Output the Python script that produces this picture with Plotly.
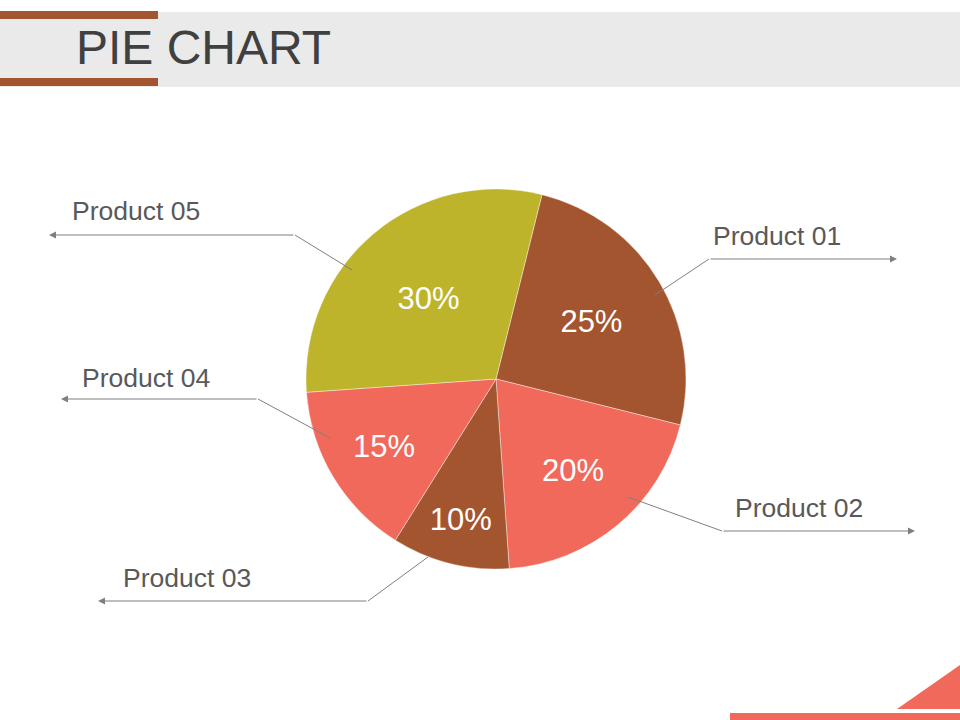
#!/usr/bin/env python3

import sys

import plotly.graph_objects as go

# chart data
products = ["Product 01", "Product 02", "Product 03", "Product 04", "Product 05"]
shares = [25, 20, 10, 15, 30]
slice_colors = ["#A3552F", "#F1695B", "#A3552F", "#F1695B", "#BDB42B"]

title_text = "PIE CHART"

W, H = 960, 720


def px(x):
    # pixel -> paper (x)
    return x / W


def py(y):
    # pixel -> paper (y), pixel y grows downward
    return 1 - y / H


# pie placement in pixels: center and radius
CX, CY, R = 496, 379, 190
START_ANGLE = 14  # degrees clockwise from 12 o'clock

# leader line layout in pixels:
# (anchor x, anchor y, elbow x, elbow y, arrow tip x, label x, label y)
leaders = [
    (655, 295, 709, 259, 897, 711, 236),
    (628, 497, 722, 531, 915, 733, 508),
    (428, 557, 368, 601, 98, 121, 578),
    (330, 438, 258, 399, 61, 80, 378),
    (352, 270, 295, 235, 49, 70, 211),
]


def build_figure():
    fig = go.Figure()

    fig.add_trace(go.Pie(
        labels=products,
        values=shares,
        sort=False,
        direction="clockwise",
        rotation=START_ANGLE,
        marker=dict(colors=slice_colors, line=dict(color="rgba(255,255,255,0.5)", width=0.8)),
        texttemplate="%{percent:.0%}",
        textposition="inside",
        insidetextorientation="horizontal",
        insidetextfont=dict(family="Liberation Sans, Arial", size=31, color="white"),
        showlegend=False,
        hoverinfo="label+percent",
        domain=dict(x=[px(CX - R), px(CX + R)], y=[py(CY + R), py(CY - R)]),
    ))

    shapes = []
    annotations = []

    # header band + accent bars
    shapes.append(dict(type="rect", xref="paper", yref="paper",
                       x0=0, x1=1, y0=py(87), y1=py(12),
                       fillcolor="#EAEAEA", line_width=0, layer="below"))
    for y0, y1 in [(11, 19), (78, 86)]:
        shapes.append(dict(type="rect", xref="paper", yref="paper",
                           x0=0, x1=px(158), y0=py(y1), y1=py(y0),
                           fillcolor="#A3552F", line_width=0))

    # bottom right corner decoration
    shapes.append(dict(type="path", xref="paper", yref="paper",
                       path=f"M {px(897)} {py(709)} L {px(960)} {py(665)} L {px(960)} {py(709)} Z",
                       fillcolor="#F1695B", line_width=0))
    shapes.append(dict(type="rect", xref="paper", yref="paper",
                       x0=px(730), x1=1, y0=0, y1=py(713),
                       fillcolor="#F1695B", line_width=0))

    annotations.append(dict(text=title_text, xref="paper", yref="paper",
                            x=px(74), y=py(48), xanchor="left", yanchor="middle",
                            showarrow=False,
                            font=dict(family="Liberation Sans, Arial", size=48, color="#404040")))

    # leader lines with arrows and product names
    for name, (sx, sy, ex, ey, tipx, lx, ly) in zip(products, leaders):
        shapes.append(dict(type="line", xref="paper", yref="paper",
                           x0=px(sx), y0=py(sy), x1=px(ex), y1=py(ey),
                           line=dict(color="#7F7F7F", width=1)))
        annotations.append(dict(text="", xref="paper", yref="paper",
                                x=px(tipx), y=py(ey), ax=ex - tipx, ay=0,
                                axref="pixel", ayref="pixel",
                                showarrow=True, arrowhead=2, arrowsize=1.4,
                                arrowwidth=1, arrowcolor="#7F7F7F", standoff=0))
        annotations.append(dict(text=name, xref="paper", yref="paper",
                                x=px(lx), y=py(ly), xanchor="left", yanchor="middle",
                                showarrow=False,
                                font=dict(family="Liberation Sans, Arial", size=26.5, color="#595959")))

    fig.update_layout(
        width=W,
        height=H,
        margin=dict(l=0, r=0, t=0, b=0),
        paper_bgcolor="white",
        plot_bgcolor="white",
        shapes=shapes,
        annotations=annotations,
    )
    return fig


def main():
    fig = build_figure()
    # drop the default page margin so the figure sits flush in the window
    fig.write_html("out.html", config={"displayModeBar": False},
                   post_script="document.body.style.margin='0';")


if __name__ == "__main__":
    sys.exit(main())
